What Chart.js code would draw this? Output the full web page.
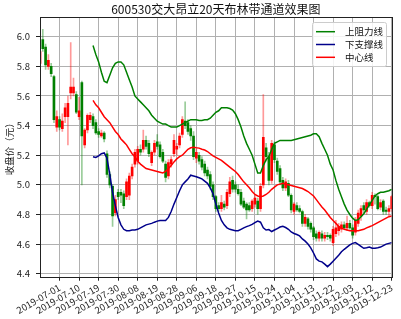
<!DOCTYPE html>
<html>
<head>
<meta charset="utf-8">
<script src="https://cdn.jsdelivr.net/npm/chart.js@4.4.1/dist/chart.umd.min.js"></script>
<style>
  html, body { margin: 0; padding: 0; background: #fff; }
  #chart { display: block; }
</style>
</head>
<body>
<canvas id="chart" width="401" height="319"></canvas>
<script>
// trading-day index of each labelled tick, and its date
const tickPos = [7, 14, 21, 28, 35, 42, 49, 56, 63, 70, 77, 84, 91, 98, 105, 112, 119, 126];
const tickLabels = ['2019-07-01', '2019-07-10', '2019-07-19', '2019-07-30', '2019-08-08', '2019-08-19',
  '2019-08-28', '2019-09-06', '2019-09-18', '2019-09-27', '2019-10-15', '2019-10-24',
  '2019-11-04', '2019-11-13', '2019-11-22', '2019-12-03', '2019-12-12', '2019-12-23'];
const yTicks = [4.4, 4.6, 4.8, 5.0, 5.2, 5.4, 5.6, 5.8, 6.0];

// daily candles, one entry per trading day
const openPrice = [
  5.82, 5.98, 5.93, 5.80, 5.80, 5.73, 5.39, 5.44, 5.38, 5.46,
  5.46, 5.62, 5.62, 5.61, 5.46, 5.69, 5.27, 5.37, 5.44, 5.46,
  5.42, 5.36, 5.33, 5.35, 5.21, 5.07, 4.99, 4.81, 4.95, 4.95,
  4.94, 4.92, 4.93, 5.06, 5.14, 5.16, 5.24, 5.24, 5.30, 5.28,
  5.15, 5.22, 5.29, 5.27, 5.22, 5.14, 5.06, 5.14, 5.21, 5.24,
  5.27, 5.34, 5.43, 5.42, 5.38, 5.33, 5.18, 5.20, 5.17, 5.14,
  5.10, 5.07, 5.00, 4.92, 4.86, 4.84, 4.87, 4.86, 4.94, 5.03,
  5.00, 4.97, 4.95, 4.89, 4.87, 4.86, 4.84, 4.87, 4.89, 4.84,
  5.00, 5.25, 5.19, 5.03, 5.27, 5.16, 5.11, 5.03, 4.98, 5.01,
  4.93, 4.82, 4.86, 4.84, 4.82, 4.74, 4.77, 4.74, 4.71, 4.67,
  4.64, 4.67, 4.64, 4.66, 4.66, 4.61, 4.67, 4.69, 4.70, 4.73,
  4.71, 4.74, 4.71, 4.68, 4.74, 4.79, 4.86, 4.82, 4.88, 4.86,
  4.93, 4.92, 4.85, 4.89, 4.83, 4.82, 4.84];
const highPrice = [
  5.91, 6.05, 5.95, 5.88, 5.82, 5.74, 5.50, 5.46, 5.48, 5.55,
  5.60, 5.96, 5.72, 5.63, 5.59, 5.70, 5.38, 5.48, 5.49, 5.48,
  5.44, 5.38, 5.37, 5.36, 5.23, 5.09, 5.00, 4.93, 4.97, 4.97,
  4.96, 5.04, 5.08, 5.14, 5.24, 5.26, 5.27, 5.37, 5.33, 5.30,
  5.23, 5.30, 5.34, 5.29, 5.24, 5.16, 5.17, 5.19, 5.34, 5.28,
  5.35, 5.46, 5.56, 5.44, 5.40, 5.36, 5.24, 5.22, 5.19, 5.16,
  5.12, 5.09, 5.02, 4.93, 4.88, 4.93, 4.89, 4.97, 5.05, 5.06,
  5.02, 5.00, 4.97, 4.91, 4.88, 4.88, 4.90, 4.93, 4.91, 5.01,
  5.61, 5.28, 5.22, 5.30, 5.29, 5.18, 5.13, 5.05, 5.04, 5.03,
  4.94, 4.88, 4.88, 4.86, 4.83, 4.80, 4.78, 4.75, 4.72, 4.69,
  4.69, 4.69, 4.68, 4.68, 4.67, 4.72, 4.76, 4.74, 4.75, 4.75,
  4.79, 4.76, 4.73, 4.78, 4.83, 4.86, 4.88, 4.90, 4.89, 4.95,
  4.94, 4.93, 4.90, 4.90, 4.85, 4.86, 4.93];
const lowPrice = [
  5.80, 5.90, 5.78, 5.78, 5.73, 5.42, 5.36, 5.37, 5.36, 5.42,
  5.27, 5.58, 5.60, 5.48, 5.44, 5.00, 5.25, 5.35, 5.42, 5.38,
  5.34, 5.32, 5.32, 5.29, 5.05, 4.98, 4.72, 4.79, 4.90, 4.88,
  4.84, 4.90, 4.90, 5.04, 5.12, 5.14, 5.20, 5.22, 5.24, 5.19,
  5.13, 5.20, 5.24, 5.18, 5.15, 5.02, 5.04, 5.12, 5.19, 5.20,
  5.25, 5.32, 5.38, 5.34, 5.30, 5.17, 5.15, 5.14, 5.10, 5.06,
  5.04, 4.97, 4.90, 4.82, 4.82, 4.82, 4.83, 4.84, 4.92, 4.95,
  4.95, 4.93, 4.86, 4.84, 4.77, 4.82, 4.82, 4.85, 4.80, 4.82,
  4.98, 5.16, 5.00, 5.01, 5.15, 5.07, 5.00, 4.96, 4.96, 4.92,
  4.81, 4.80, 4.82, 4.81, 4.72, 4.72, 4.70, 4.68, 4.63, 4.62,
  4.62, 4.62, 4.62, 4.63, 4.62, 4.59, 4.65, 4.66, 4.68, 4.70,
  4.69, 4.70, 4.64, 4.66, 4.72, 4.76, 4.81, 4.80, 4.85, 4.84,
  4.87, 4.83, 4.83, 4.80, 4.80, 4.79, 4.82];
const closePrice = [
  5.90, 5.92, 5.81, 5.84, 5.75, 5.44, 5.46, 5.39, 5.43, 5.52,
  5.55, 5.66, 5.66, 5.49, 5.50, 5.33, 5.37, 5.47, 5.47, 5.40,
  5.35, 5.34, 5.35, 5.31, 5.07, 5.00, 4.79, 4.90, 4.92, 4.93,
  4.86, 5.02, 5.06, 5.12, 5.22, 5.24, 5.22, 5.30, 5.26, 5.21,
  5.22, 5.28, 5.26, 5.19, 5.16, 5.05, 5.15, 5.17, 5.30, 5.26,
  5.33, 5.44, 5.40, 5.36, 5.33, 5.19, 5.22, 5.16, 5.12, 5.08,
  5.06, 4.99, 4.92, 4.84, 4.84, 4.88, 4.85, 4.95, 5.02, 4.97,
  4.97, 4.94, 4.87, 4.85, 4.83, 4.83, 4.89, 4.91, 4.84, 4.99,
  5.32, 5.19, 5.03, 5.28, 5.17, 5.09, 5.02, 4.98, 5.02, 4.93,
  4.83, 4.87, 4.83, 4.82, 4.74, 4.78, 4.72, 4.70, 4.65, 4.64,
  4.68, 4.64, 4.66, 4.65, 4.64, 4.70, 4.71, 4.72, 4.73, 4.71,
  4.74, 4.71, 4.66, 4.76, 4.81, 4.84, 4.83, 4.88, 4.86, 4.93,
  4.92, 4.84, 4.88, 4.82, 4.82, 4.84, 4.92];

// 20-day channel lines, starting at day 19
const bandStart = 19;
const upperLine = [
  5.94, 5.88, 5.83, 5.76, 5.70, 5.69, 5.74, 5.79, 5.82, 5.83,
  5.83, 5.81, 5.76, 5.71, 5.66, 5.60, 5.58, 5.56, 5.54, 5.52,
  5.50, 5.47, 5.45, 5.43, 5.42, 5.41, 5.41, 5.40, 5.39, 5.39,
  5.39, 5.40, 5.41, 5.42, 5.43, 5.44, 5.44, 5.44, 5.435, 5.435,
  5.44, 5.44, 5.45, 5.47, 5.49, 5.50, 5.52, 5.52, 5.52, 5.515,
  5.505, 5.48, 5.44, 5.39, 5.33, 5.28, 5.24, 5.20, 5.14, 5.08,
  5.08, 5.13, 5.17, 5.19, 5.24, 5.28, 5.29, 5.30, 5.30, 5.30,
  5.30, 5.30, 5.305, 5.31, 5.315, 5.32, 5.325, 5.33, 5.335, 5.345,
  5.345, 5.325, 5.28, 5.24, 5.20, 5.14, 5.10, 5.03, 4.97, 4.92,
  4.87, 4.83, 4.80, 4.775, 4.76, 4.765, 4.785, 4.805, 4.835, 4.865,
  4.895, 4.925, 4.94, 4.95, 4.95, 4.955, 4.96, 4.97];
const middleLine = [
  5.57, 5.54, 5.52, 5.49, 5.46, 5.44, 5.42, 5.39, 5.36, 5.34,
  5.31, 5.29, 5.27, 5.24, 5.21, 5.19, 5.16, 5.14, 5.125, 5.11,
  5.105, 5.10, 5.095, 5.09, 5.085, 5.08, 5.09, 5.11, 5.13, 5.155,
  5.175, 5.19, 5.20, 5.22, 5.24, 5.25, 5.253, 5.25, 5.248, 5.24,
  5.235, 5.225, 5.21, 5.195, 5.185, 5.175, 5.165, 5.15, 5.135, 5.12,
  5.105, 5.09, 5.07, 5.045, 5.02, 5.00, 4.98, 4.955, 4.935, 4.925,
  4.92, 4.925, 4.935, 4.95, 4.97, 4.985, 5.00, 5.005, 5.01, 5.005,
  5.00, 4.995, 4.99, 4.985, 4.98, 4.975, 4.965, 4.955, 4.94, 4.925,
  4.90, 4.875, 4.85, 4.83, 4.805, 4.78, 4.76, 4.74, 4.72, 4.71,
  4.70, 4.695, 4.69, 4.69, 4.69, 4.69, 4.695, 4.70, 4.71, 4.717,
  4.725, 4.735, 4.745, 4.755, 4.765, 4.775, 4.785, 4.79];
const lowerLine = [
  5.19, 5.185, 5.195, 5.21, 5.215, 5.18, 5.07, 4.95, 4.86, 4.78,
  4.73, 4.70, 4.69, 4.69, 4.695, 4.695, 4.70, 4.71, 4.72, 4.73,
  4.735, 4.74, 4.748, 4.755, 4.76, 4.76, 4.76, 4.78, 4.82, 4.87,
  4.915, 4.96, 5.00, 5.02, 5.04, 5.065, 5.06, 5.055, 5.048, 5.04,
  5.025, 5.01, 4.98, 4.94, 4.87, 4.81, 4.76, 4.73, 4.71, 4.70,
  4.695, 4.69, 4.69, 4.70, 4.71, 4.718, 4.725, 4.733, 4.745, 4.755,
  4.748, 4.71, 4.695, 4.698, 4.685, 4.695, 4.705, 4.715, 4.72, 4.712,
  4.70, 4.682, 4.672, 4.665, 4.655, 4.635, 4.62, 4.60, 4.575, 4.54,
  4.50, 4.485, 4.48, 4.465, 4.448, 4.465, 4.485, 4.505, 4.525, 4.548,
  4.565, 4.58, 4.595, 4.605, 4.61, 4.598, 4.585, 4.572, 4.575, 4.58,
  4.572, 4.572, 4.575, 4.58, 4.59, 4.60, 4.605, 4.61];

const FONT = '"Noto Sans CJK SC", "DejaVu Sans", sans-serif';
const UP = '#ff0000', DOWN = '#008000';

const isUp = i => closePrice[i] >= openPrice[i];
const bodies = closePrice.map((c, i) => ({ x: i, y: [openPrice[i], c] }));
const wicks = highPrice.map((h, i) => ({ x: i, y: [lowPrice[i], h] }));
const band = arr => arr.map((v, k) => ({ x: bandStart + k, y: v }));

const lineSets = [
  { label: '上阻力线', data: band(upperLine), color: '#008000' },
  { label: '下支撑线', data: band(lowerLine), color: '#00008b' },
  { label: '中心线', data: band(middleLine), color: '#ff0000' }
];

// title, y label, frame and legend drawn onto the same canvas
const decor = {
  id: 'decor',
  afterDraw(chart) {
    const { ctx, chartArea: a } = chart;
    ctx.save();
    ctx.strokeStyle = '#222';
    ctx.lineWidth = 1;
    ctx.strokeRect(Math.round(a.left) + 0.5, Math.round(a.top) + 0.5,
      Math.round(a.right - a.left), Math.round(a.bottom - a.top));

    ctx.fillStyle = '#111';
    ctx.font = '12px ' + FONT;
    ctx.textAlign = 'center';
    ctx.textBaseline = 'middle';
    ctx.fillText('600530交大昂立20天布林带通道效果图', (a.left + a.right) / 2, 9);

    ctx.save();
    ctx.translate(9, (a.top + a.bottom) / 2);
    ctx.rotate(-Math.PI / 2);
    ctx.font = '9.5px ' + FONT;
    ctx.fillText('收盘价（元）', 0, 0);
    ctx.restore();

    // legend box in the upper right corner
    const bx = 312.5, by = 22.5, bw = 74, bh = 44;
    ctx.beginPath();
    ctx.roundRect(bx, by, bw, bh, 2);
    ctx.fillStyle = 'rgba(255,255,255,0.85)';
    ctx.fill();
    ctx.strokeStyle = '#cccccc';
    ctx.stroke();
    ctx.font = '9.5px ' + FONT;
    ctx.textAlign = 'left';
    lineSets.forEach((s, k) => {
      const y = 31.7 + k * 12.8;
      ctx.beginPath();
      ctx.moveTo(316, y);
      ctx.lineTo(335, y);
      ctx.strokeStyle = s.color;
      ctx.lineWidth = 1.5;
      ctx.stroke();
      ctx.fillStyle = '#111';
      ctx.fillText(s.label, 345, y);
    });
    ctx.restore();
  }
};

new Chart(document.getElementById('chart'), {
  type: 'bar',
  data: {
    datasets: [
      ...lineSets.map(s => ({
        type: 'line',
        label: s.label,
        data: s.data,
        borderColor: s.color,
        borderWidth: 1.5,
        pointRadius: 0,
        fill: false,
        order: 1
      })),
      {
        label: 'body',
        data: bodies,
        backgroundColor: c => isUp(c.dataIndex) ? UP : DOWN,
        barThickness: 2,
        minBarLength: 1,
        grouped: false,
        order: 2
      },
      {
        label: 'wick',
        data: wicks,
        backgroundColor: c => isUp(c.dataIndex) ? 'rgba(255,0,0,0.4)' : 'rgba(0,128,0,0.4)',
        barThickness: 1,
        grouped: false,
        order: 3
      }
    ]
  },
  options: {
    responsive: false,
    animation: false,
    devicePixelRatio: 1,
    layout: { padding: { top: 17, right: 9.3, left: 0, bottom: 0 } },
    plugins: {
      legend: { display: false },
      tooltip: { enabled: false },
      title: { display: false }
    },
    scales: {
      x: {
        type: 'linear',
        min: 0,
        max: 126,
        offset: false,
        grid: { color: '#b0b0b0', lineWidth: 1, offset: false, tickColor: '#222', tickLength: 4 },
        border: { display: false },
        afterBuildTicks: s => { s.ticks = tickPos.map(v => ({ value: v })); },
        afterFit: s => { s.height = 42.3; },
        ticks: {
          autoSkip: false,
          minRotation: 30,
          maxRotation: 30,
          padding: 1,
          color: '#222',
          font: { family: FONT, size: 9.5 },
          callback: v => tickLabels[tickPos.indexOf(v)]
        }
      },
      y: {
        min: 4.38,
        max: 6.133,
        grid: { color: '#b0b0b0', lineWidth: 1, tickColor: '#222', tickLength: 4 },
        border: { display: false },
        afterBuildTicks: s => { s.ticks = yTicks.map(v => ({ value: v })); },
        afterFit: s => { s.width = 40; },
        ticks: {
          padding: 6,
          color: '#222',
          font: { family: FONT, size: 9.5 },
          callback: v => v.toFixed(1)
        }
      }
    }
  },
  plugins: [decor]
});
</script>
</body>
</html>
